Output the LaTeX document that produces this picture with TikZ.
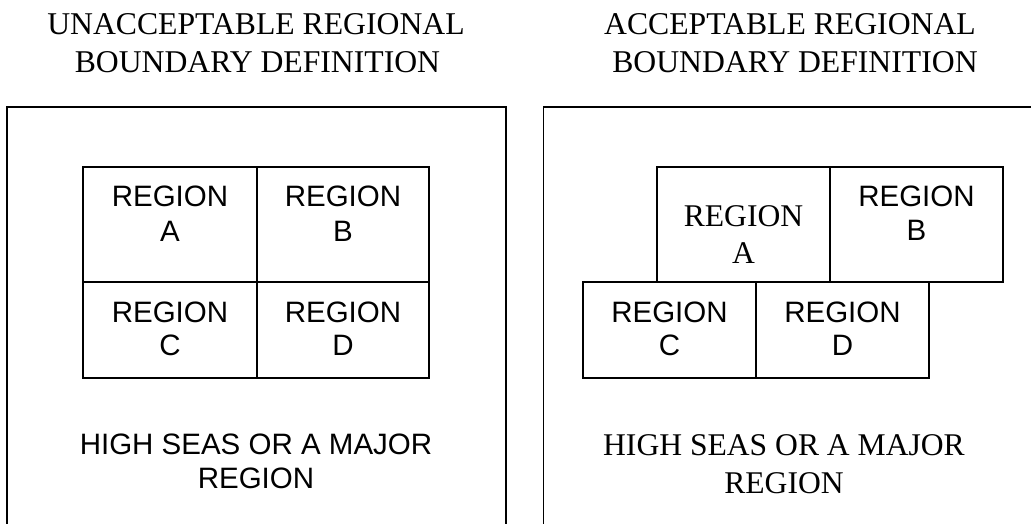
\documentclass[tikz,border=0pt]{standalone}
\usepackage{fontspec}
\setmainfont{Liberation Serif}
\setsansfont{Liberation Sans}
\begin{document}
\begin{tikzpicture}[x=1pt,y=-1pt,
  frame/.style={line width=1.9pt, draw=black},
  cell/.style={line width=1.8pt, draw=black},
  serifttl/.style={font=\fontsize{31.7}{38}\selectfont\rmfamily, inner sep=0pt, anchor=base},
  sanslbl/.style={font=\fontsize{29.5}{35}\selectfont\sffamily, inner sep=0pt, anchor=base},
  seriflbl/.style={font=\fontsize{31.6}{37}\selectfont\rmfamily, inner sep=0pt, anchor=base}]
\useasboundingbox (0,0) rectangle (1031,524);
\clip (0,0) rectangle (1031,524);

% headings
\node[serifttl] (lt1) at (256,35) {UNACCEPTABLE REGIONAL};
\node[serifttl] (lt2) at (257.5,73) {BOUNDARY DEFINITION};
\node[serifttl] (rt1) at (790,35) {ACCEPTABLE REGIONAL};
\node[serifttl] (rt2) at (795,73) {BOUNDARY DEFINITION};

% outer frames (bottoms run past the page edge)
\draw[frame] (7,560) -- (7,107) -- (506,107) -- (506,560);
\draw[frame] (543.5,560) -- (543.5,107) -- (1060,107);

% left panel: aligned grid
\draw[cell] (83,167) rectangle (257,282);
\draw[cell] (257,167) rectangle (429,282);
\draw[cell] (83,282) rectangle (257,378);
\draw[cell] (257,282) rectangle (429,378);

\node[sanslbl] (la1) at (170,206) {REGION};
\node[sanslbl] (la2) at (170,241) {A};
\node[sanslbl] (lb1) at (343,206) {REGION};
\node[sanslbl] (lb2) at (343,241) {B};
\node[sanslbl] (lc1) at (170,322) {REGION};
\node[sanslbl] (lc2) at (170,355) {C};
\node[sanslbl] (ld1) at (343,322) {REGION};
\node[sanslbl] (ld2) at (343,355) {D};

\node[sanslbl] (lh1) at (256,454) {HIGH SEAS OR A MAJOR};
\node[sanslbl] (lh2) at (256,488) {REGION};

% right panel: staggered regions
\draw[cell] (657,167) rectangle (830,282);
\draw[cell] (830,167) rectangle (1003,282);
\draw[cell] (583,282) rectangle (756,378);
\draw[cell] (756,282) rectangle (929,378);

\node[seriflbl] (ra1) at (743.5,226) {REGION};
\node[seriflbl] (ra2) at (743.5,263) {A};
\node[sanslbl] (rb1) at (916.5,206) {REGION};
\node[sanslbl] (rb2) at (916.5,240) {B};
\node[sanslbl] (rc1) at (669.5,322) {REGION};
\node[sanslbl] (rc2) at (669.5,355) {C};
\node[sanslbl] (rd1) at (842.5,322) {REGION};
\node[sanslbl] (rd2) at (842.5,355) {D};

\node[seriflbl] (rh1) at (784,455) {HIGH SEAS OR A MAJOR};
\node[seriflbl] (rh2) at (784,493) {REGION};
\end{tikzpicture}
\end{document}
